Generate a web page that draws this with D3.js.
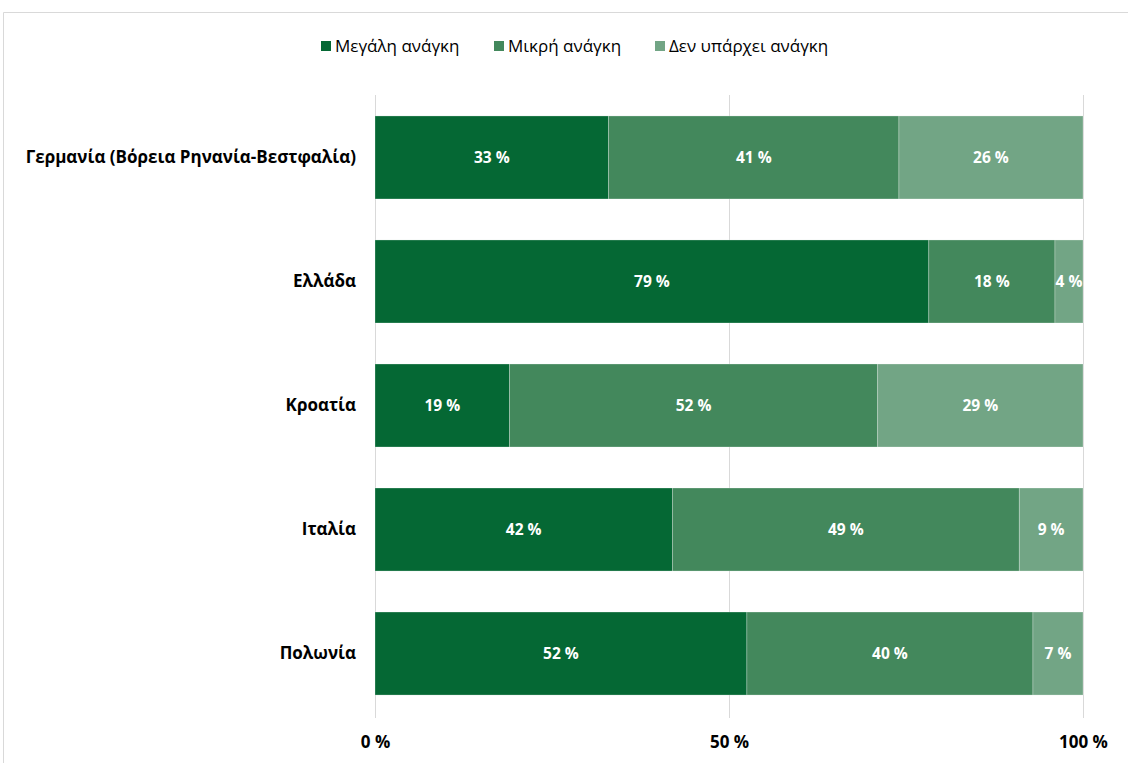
<!DOCTYPE html>
<html><head><meta charset="utf-8">
<script src="https://cdn.jsdelivr.net/npm/d3@7"></script>
<style>
html,body{margin:0;padding:0;background:#fff;}
svg{display:block;font-family:"Open Sans","Noto Sans",sans-serif;}
</style></head>
<body>
<svg id="c" width="1128" height="763"></svg>
<script>
const categories = ["Γερμανία (Βόρεια Ρηνανία-Βεστφαλία)", "Ελλάδα", "Κροατία", "Ιταλία", "Πολωνία"];
const seriesNames = ["Μεγάλη ανάγκη", "Μικρή ανάγκη", "Δεν υπάρχει ανάγκη"];
const bigNeed = [33, 79, 19, 42, 52];
const smallNeed = [41, 18, 52, 49, 40];
const noNeed = [26, 4, 29, 9, 7];
const tickValues = [0, 0.5, 1];
const tickLabels = ["0 %", "50 %", "100 %"];
const colors = ["#056834", "#43885c", "#72a585"];

const svg = d3.select("#c");
// outer frame
svg.append("path").attr("d","M3.5,763 V12.5 H1128").attr("fill","none").attr("stroke","#d9d9d9").attr("stroke-width",1);

const rows = categories.map((c,i)=>({cat:c, s0:bigNeed[i], s1:smallNeed[i], s2:noNeed[i]}));
const keys = ["s0","s1","s2"];
const stacked = d3.stack().keys(keys).offset(d3.stackOffsetExpand)(rows);

const x = d3.scaleLinear().domain([0,1]).range([375,1083]);
const y = d3.scaleBand().domain(categories).range([95.5,715.5]).paddingInner(0.3306).paddingOuter(0.165);

// gridlines
svg.append("g").selectAll("line").data(tickValues).join("line")
  .attr("x1",d=>x(d)+0.5).attr("x2",d=>x(d)+0.5).attr("y1",95).attr("y2",718)
  .attr("stroke","#d9d9d9").attr("stroke-width",1);

// bars
const g = svg.append("g");
stacked.forEach((layer,li)=>{
  g.append("g").selectAll("rect").data(layer).join("rect")
    .attr("x",d=>x(d[0])).attr("width",d=>x(d[1])-x(d[0]))
    .attr("y",d=>y(d.data.cat)).attr("height",y.bandwidth())
    .attr("fill",colors[li]).attr("stroke","rgba(255,255,255,0.35)").attr("stroke-width",0.75);
  g.append("g").selectAll("text").data(layer).join("text")
    .attr("x",d=>(x(d[0])+x(d[1]))/2).attr("y",d=>y(d.data.cat)+y.bandwidth()/2)
    .attr("dy","0.35em").attr("text-anchor","middle")
    .attr("fill","#fff").attr("font-weight","bold").attr("font-size",15.5)
    .text(d=>d.data[keys[li]]+" %");
});

// category axis
const ya = d3.axisLeft(y).tickSize(0).tickPadding(19);
svg.append("g").attr("transform","translate(375,0)").call(ya)
  .call(s=>s.select(".domain").remove())
  .selectAll("text").attr("font-size",17).attr("font-weight","bold").attr("fill","#000")
  .attr("font-family","'Open Sans','Noto Sans',sans-serif");

// x axis labels
const xa = d3.axisBottom(x).tickValues(tickValues).tickFormat((d,i)=>tickLabels[i]).tickSize(0).tickPadding(18);
svg.append("g").attr("transform","translate(0,718)").call(xa)
  .call(s=>s.select(".domain").remove())
  .selectAll("text").attr("font-size",17).attr("font-weight","bold").attr("fill","#000")
  .attr("font-family","'Open Sans','Noto Sans',sans-serif");

// legend
const legX = [321, 494, 655];
const lg = svg.append("g");
seriesNames.forEach((n,i)=>{
  lg.append("rect").attr("x",legX[i]).attr("y",41).attr("width",10).attr("height",10).attr("fill",colors[i]);
  lg.append("text").attr("x",legX[i]+14).attr("y",46).attr("dy","0.35em")
    .attr("font-size",17).attr("fill","#000").text(n);
});
</script>
</body></html>
